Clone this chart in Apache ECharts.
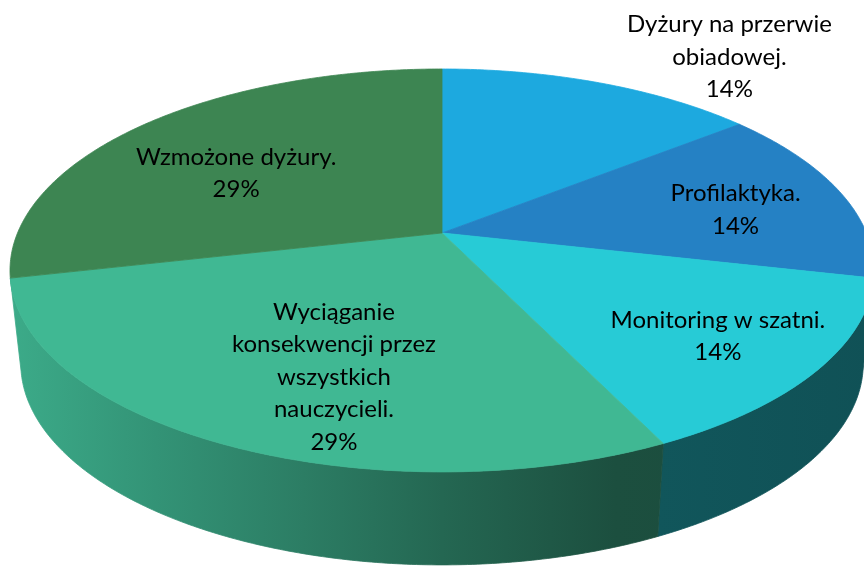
<!DOCTYPE html>
<html>
<head>
<meta charset="utf-8">
<script src="https://cdn.jsdelivr.net/npm/echarts@6/dist/echarts.min.js"></script>
<style>
  html, body { margin: 0; padding: 0; background: #fff; }
  #chart { width: 864px; height: 572px; }
</style>
</head>
<body>
<div id="chart"></div>
<script>
var categories = ['Dyżury na przerwie\nobiadowej.', 'Profilaktyka.', 'Monitoring w szatni.',
  'Wyciąganie\nkonsekwencji przez\nwszystkich\nnauczycieli.', 'Wzmożone dyżury.'];
var values = [1, 1, 1, 2, 2];

var colors = ['#1DA9DF', '#2581C4', '#27CBD6', '#40B893', '#3D8552'];
// label nudge (px) from the point at 0.7 radius, like excel's best fit
var labelShift = [[172, -66], [12, 6], [23, 11], [38, 5], [9, 19]];

var total = values.reduce(function (s, v) { return s + v; }, 0);
var starts = [];
var acc = 0;
values.forEach(function (v) {
  starts.push(acc / total * 2 * Math.PI);
  acc += v;
});

function shade(hex, f) {
  var r = parseInt(hex.slice(1, 3), 16), g = parseInt(hex.slice(3, 5), 16), b = parseInt(hex.slice(5, 7), 16);
  return 'rgb(' + Math.round(r * f) + ',' + Math.round(g * f) + ',' + Math.round(b * f) + ')';
}

function renderItem(params, api) {
  var i = params.dataIndex;
  var W = api.getWidth(), H = api.getHeight();
  var cx = W * 0.5116, cy = H * 0.4073;
  var A = W * 0.4913, B = H * 0.34;
  var k = 0.186;          // perspective
  var T = H * 0.1626;     // thickness
  var s = 0.975;          // bottom rim is a bit narrower

  function top(t, r) {
    var u = r * Math.sin(t), v = -r * Math.cos(t), w = 1 - k * v;
    return [cx + A * u / w, cy + B * v / w];
  }
  function bot(t) {
    var p = top(t, 1);
    return [cx + (p[0] - cx) * s, p[1] + T];
  }

  var t0 = starts[i];
  var t1 = t0 + api.value(0) / total * 2 * Math.PI;
  var n = Math.max(4, Math.ceil((t1 - t0) / 0.01));
  var pts = [[cx, cy]];
  for (var j = 0; j <= n; j++) pts.push(top(t0 + (t1 - t0) * j / n, 1));

  var children = [];

  // front wall (skip hair-thin slivers at the silhouette)
  var tl = Math.acos(-k), tr = 2 * Math.PI - tl;
  var lo = Math.max(t0, tl), hi = Math.min(t1, tr);
  if (hi - lo > 0.05) {
    var m = Math.max(4, Math.ceil((hi - lo) / 0.01));
    var side = [];
    for (j = 0; j <= m; j++) side.push(top(lo + (hi - lo) * j / m, 1));
    for (j = m; j >= 0; j--) side.push(bot(lo + (hi - lo) * j / m));
    var c = colors[i];
    var grad = {
      type: 'linear', global: true,
      x: cx - A * 1.02, y: 0, x2: cx + A * 1.02, y2: 0,
      colorStops: [
        { offset: 0, color: shade(c, 0.93) },
        { offset: 0.17, color: shade(c, 0.8) },
        { offset: 0.34, color: shade(c, 0.68) },
        { offset: 0.5, color: shade(c, 0.56) },
        { offset: 0.7, color: shade(c, 0.43) },
        { offset: 1, color: shade(c, 0.4) }
      ]
    };
    children.push({
      type: 'polygon', z2: 1,
      shape: { points: side },
      style: { fill: grad, stroke: grad, lineWidth: 0.8 }
    });
  }

  children.push({
    type: 'polygon', z2: 10,
    shape: { points: pts },
    style: { fill: colors[i], stroke: colors[i], lineWidth: 0.8 }
  });

  var mid = (t0 + t1) / 2;
  var lp = top(mid, 0.7);
  var pct = Math.round(api.value(0) / total * 100) + '%';
  children.push({
    type: 'text', z2: 100,
    style: {
      text: categories[i] + '\n' + pct,
      x: lp[0] + labelShift[i][0],
      y: lp[1] + labelShift[i][1],
      align: 'center',
      verticalAlign: 'middle',
      font: '24px Lato',
      lineHeight: 32.5,
      fill: '#000'
    }
  });

  return { type: 'group', children: children };
}

var chart = echarts.init(document.getElementById('chart'));
chart.setOption({
  backgroundColor: '#fff',
  animation: false,
  series: [{
    type: 'custom',
    coordinateSystem: 'none',
    silent: true,
    renderItem: renderItem,
    data: values
  }]
});
</script>
</body>
</html>
